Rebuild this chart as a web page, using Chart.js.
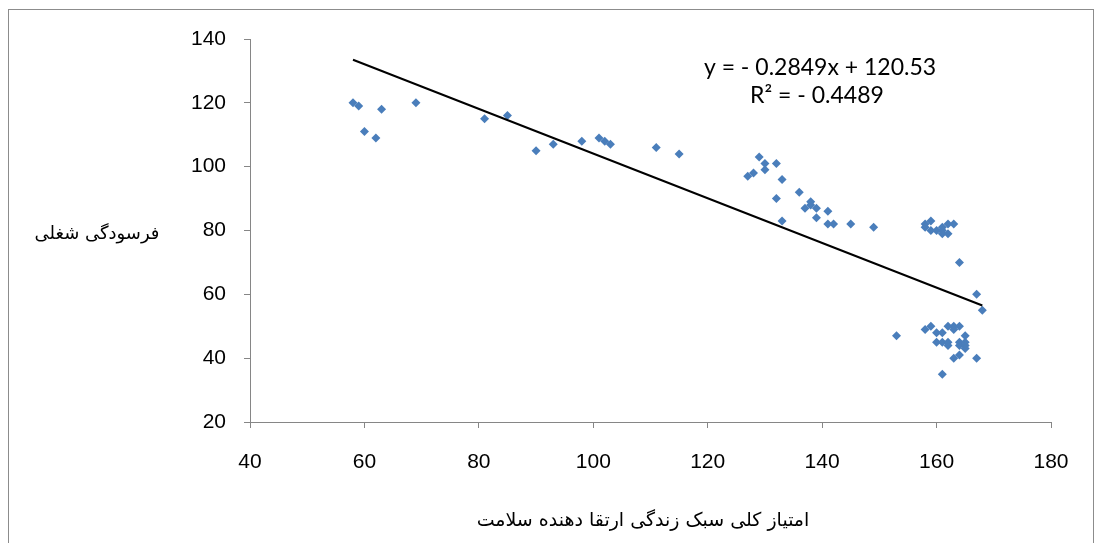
<!DOCTYPE html>
<html>
<head>
<meta charset="utf-8">
<script src="https://cdn.jsdelivr.net/npm/chart.js@4"></script>
<style>
  html, body { margin: 0; padding: 0; background: #fff; }
  #wrap { position: relative; width: 1095px; height: 543px; }
  #frame { position: absolute; left: 8px; top: 9px; right: 1px; bottom: -5px;
           border: 1px solid #8c8c8c; border-bottom: none; pointer-events: none; }
</style>
</head>
<body>
<div id="wrap">
  <canvas id="chart"></canvas>
  <div id="frame"></div>
</div>
<script>
/* ── Data ── */
const lifestyleScore = [
    58, 59, 63, 60, 62, 69, 81, 85, 90, 93, 98, 101, 102, 103, 111, 115,
    129, 130, 132, 130, 128, 127, 133, 136, 132, 138, 138, 137, 139, 141, 139, 133, 141, 142, 145, 149,
    158, 159, 158, 159, 160, 161, 161, 161, 162, 162, 163, 164, 167, 168,
    153, 158, 159, 160, 161, 162, 163, 163, 164, 165, 160, 161, 162, 162, 164, 164, 165, 165, 165, 164, 163, 167, 161
];
const burnout = [
    120, 119, 118, 111, 109, 120, 115, 116, 105, 107, 108, 109, 108, 107, 106, 104,
    103, 101, 101, 99, 98, 97, 96, 92, 90, 89, 88, 87, 87, 86, 84, 83, 82, 82, 82, 81,
    82, 83, 81, 80, 80, 81, 80, 79, 79, 82, 82, 70, 60, 55,
    47, 49, 50, 48, 48, 50, 50, 49, 50, 47, 45, 45, 45, 44, 45, 44, 45, 44, 43, 41, 40, 40, 35
];
// trend line as drawn (endpoints)
const trendX = [58, 168];
const trendY = [133.5, 56.5];
const xTicks = [40, 60, 80, 100, 120, 140, 160, 180];
const yTicks = [20, 40, 60, 80, 100, 120, 140];
const equationText = 'y = - 0.2849x + 120.53';
const r2Text = 'R² = - 0.4489';
const xTitle = 'امتیاز کلی سبک زندگی ارتقا دهنده سلامت';
const yTitle = 'فرسودگی شغلی';

const AXIS_GRAY = '#868686';
const TICK_FONT = { family: "'Liberation Sans', Arial, sans-serif", size: 21 };

/* ── Text overlay: axis titles and trendline label ── */
const labelsPlugin = {
    id: 'labels',
    afterDraw(chart) {
        const { ctx } = chart;
        ctx.save();
        ctx.fillStyle = '#000';
        ctx.textBaseline = 'middle';
        ctx.textAlign = 'center';
        ctx.font = "23px Lato, 'Open Sans', sans-serif";
        ctx.fillText(equationText, 820, 68);
        ctx.fillText(r2Text, 817, 96);
        ctx.font = "18px 'DejaVu Sans', sans-serif";
        ctx.fillText(yTitle, 97, 234);
        ctx.font = "19px 'DejaVu Sans', sans-serif";
        ctx.fillText(xTitle, 643, 521);
        ctx.restore();
    }
};

new Chart(document.getElementById('chart').getContext('2d'), {
    type: 'scatter',
    data: {
        datasets: [
            {
                label: 'Points',
                data: lifestyleScore.map((v, i) => ({ x: v, y: burnout[i] })),
                backgroundColor: '#4a7ebb',
                borderWidth: 0,
                pointStyle: 'rectRot',
                pointRadius: 4.5,
                order: 2,
            },
            {
                label: 'Trend',
                type: 'line',
                data: trendX.map((v, i) => ({ x: v, y: trendY[i] })),
                borderColor: '#000',
                borderWidth: 2,
                pointRadius: 0,
                order: 1,
            }
        ]
    },
    options: {
        responsive: true, maintainAspectRatio: false, animation: false,
        layout: { padding: { left: 0, top: 39, right: 44, bottom: 0 } },
        plugins: { legend: { display: false }, tooltip: { enabled: false } },
        scales: {
            x: {
                type: 'linear', min: 40, max: 180,
                afterBuildTicks: (s) => { s.ticks = xTicks.map(v => ({ value: v })); },
                afterFit: (s) => { s.height = 121; },
                grid: { drawOnChartArea: false, drawTicks: true, tickLength: 6, color: AXIS_GRAY },
                border: { color: AXIS_GRAY, width: 1 },
                ticks: { color: '#000', font: TICK_FONT, padding: 22, maxRotation: 0 },
            },
            y: {
                type: 'linear', min: 20, max: 140,
                afterBuildTicks: (s) => { s.ticks = yTicks.map(v => ({ value: v })); },
                afterFit: (s) => { s.width = 250; },
                grid: { drawOnChartArea: false, drawTicks: true, tickLength: 6, color: AXIS_GRAY },
                border: { color: AXIS_GRAY, width: 1 },
                ticks: { color: '#000', font: TICK_FONT, padding: 18 },
            }
        }
    },
    plugins: [labelsPlugin]
});
</script>
</body>
</html>
